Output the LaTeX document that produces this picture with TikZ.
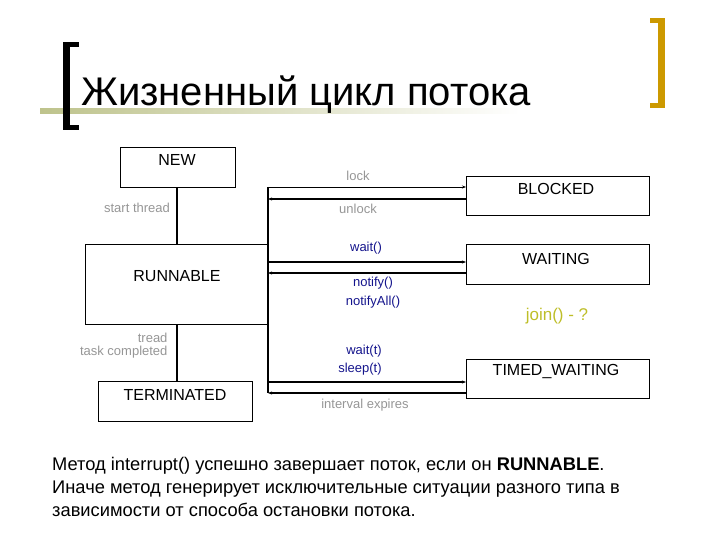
\documentclass[tikz,border=0pt]{standalone}
\usepackage{fontspec}
\setmainfont{Liberation Sans}
\usetikzlibrary{arrows.meta}
\definecolor{lbl}{RGB}{150,150,150}
\definecolor{nav}{RGB}{20,20,140}
\definecolor{gold}{RGB}{204,153,0}
\definecolor{olv}{RGB}{190,190,40}
\definecolor{bar}{RGB}{190,195,140}
\begin{document}
\begin{tikzpicture}[x=1pt,y=-1pt,
  st/.style={draw,line width=0.8pt,inner sep=0pt,anchor=north west},
  stl/.style={font=\fontsize{16}{18}\selectfont},
  gl/.style={text=lbl,font=\fontsize{13}{15}\selectfont},
  bl/.style={text=nav,font=\fontsize{13}{15}\selectfont},
  ar/.style={line width=1.2pt,-{Stealth[length=4pt,width=3pt]}}]
\useasboundingbox (0,0) rectangle (720,540);
% title decoration
\shade[left color=bar,right color=white] (40,109) rectangle (520,114);
\fill[black] (63,42) rectangle (70,130);
\fill[black] (63,42) rectangle (79,47);
\fill[black] (63,125) rectangle (79,130);
\fill[gold] (658,18) rectangle (665,108);
\fill[gold] (650,18) rectangle (665,23);
\fill[gold] (650,103) rectangle (665,108);
\node[anchor=base west,inner sep=0pt,font=\fontsize{40}{44}\selectfont] (title) at (81,106) {Жизненный цикл потока};
% boxes
\node[st,minimum width=115pt,minimum height=40pt] (new) at (120,147) {};
\node[stl] at (177,160) {NEW};
\node[st,minimum width=183pt,minimum height=80pt] (run) at (85,244) {};
\node[stl] at (177,276) {RUNNABLE};
\node[st,minimum width=154pt,minimum height=40pt] (term) at (98,381) {};
\node[stl] at (175,395) {TERMINATED};
\node[st,minimum width=183pt,minimum height=39pt] (blk) at (466,176) {};
\node[stl] at (556,189) {BLOCKED};
\node[st,minimum width=183pt,minimum height=40pt] (wait) at (466,244) {};
\node[stl] at (556,259) {WAITING};
\node[st,minimum width=183pt,minimum height=39pt] (tw) at (466,359) {};
\node[stl] at (556,372) {TIMED\_WAITING};
% vertical links
\draw[line width=1.2pt] (new.south -| 177,0) -- (run.north -| 177,0);
\draw[line width=1.2pt] (run.south -| 177,0) -- (term.north -| 177,0);
\coordinate (top) at (268,187);
\coordinate (bot) at (268,393);
\draw[line width=1.2pt] (top) -- (bot);
% arrows
\draw[line width=0.8pt,-{Stealth[length=4pt,width=3pt]}] (268,187) -- (blk.west |- 0,187);
\draw[ar] (blk.west |- 0,199) -- (268,199);
\draw[ar] (268,262) -- (wait.west |- 0,262);
\draw[ar] (wait.west |- 0,273) -- (268,273);
\draw[ar] (268,382) -- (tw.west |- 0,382);
\draw[ar] (tw.west |- 0,393) -- (268,393);
% labels
\node[gl] at (358,176) {lock};
\node[gl] at (358,209) {unlock};
\node[bl] at (366,248) {wait()};
\node[bl] at (373,283) {notify()};
\node[bl] at (373,302) {notifyAll()};
\node[bl] at (364,351) {wait(t)};
\node[bl] at (360,369) {sleep(t)};
\node[gl] at (365,405) {interval expires};
\node[gl] at (137,208) {start thread};
\node[gl,anchor=east,align=right] at (171,346) {tread\\[-2pt]task completed};
\node[text=olv,font=\fontsize{17}{19}\selectfont] at (557,316) {join() - ?};
% body text
\node[anchor=north west,align=left,inner sep=0pt,font=\fontsize{18.3}{23}\selectfont] (body) at (52,457)
{Метод interrupt() успешно завершает поток, если он \textbf{RUNNABLE}.\\
Иначе метод генерирует исключительные ситуации разного типа в\\
зависимости от способа остановки потока.};
\end{tikzpicture}
\end{document}
